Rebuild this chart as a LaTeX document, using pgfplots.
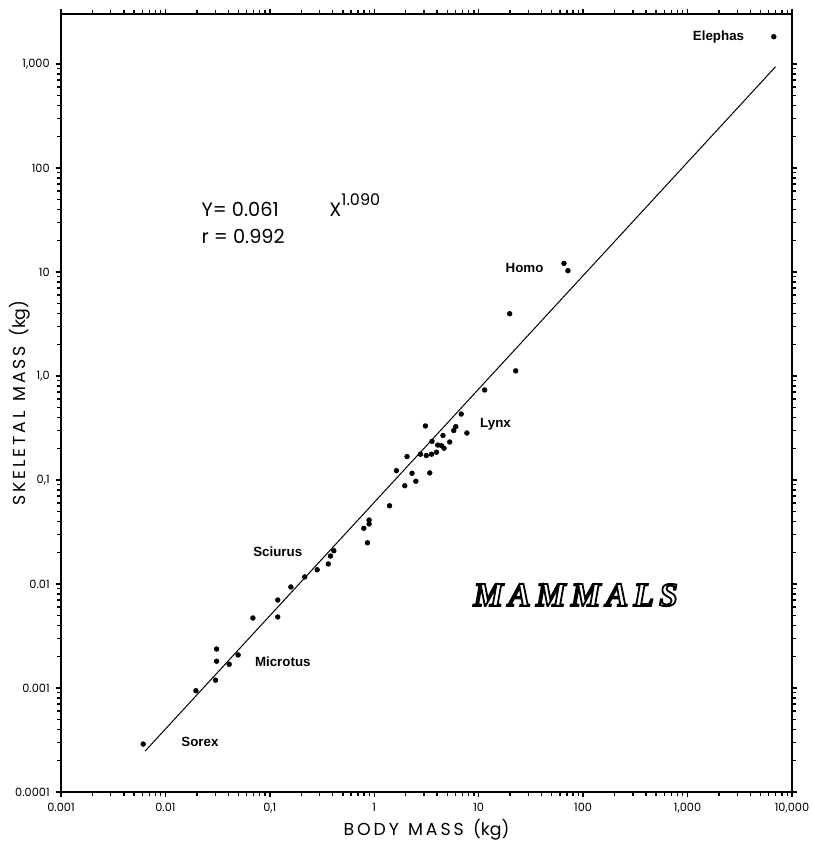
\documentclass[border=0pt]{standalone}
\usepackage{pgfplots}
\pgfplotsset{compat=1.18}
\usepackage{fontspec}
\setmainfont{Poppins}
\newfontfamily\labfont{Liberation Sans}
\newfontfamily\mamfont[LetterSpace=16]{Liberation Serif}
% hollow (stroked) lettering
\newcommand\hollow[1]{\special{pdf:literal direct 1 Tr 1.35 w}#1\special{pdf:literal direct 0 Tr}}

% skeletal mass vs body mass, mammals (kg)
\pgfplotstableread{
x        y
0.00613  0.000289
0.0196   0.000942
0.0302   0.00119
0.0309   0.00181
0.0309   0.00237
0.0408   0.00169
0.0497   0.00208
0.0688   0.00471
0.119    0.00482
0.119    0.00702
0.159    0.00936
0.216    0.0117
0.284    0.0137
0.363    0.0156
0.381    0.0186
0.410    0.0209
0.794    0.0343
0.861    0.0249
0.892    0.0412
0.892    0.0378
1.40     0.0565
1.96     0.0881
1.63     0.123
2.06     0.168
2.30     0.116
2.50     0.0972
3.40     0.117
2.77     0.177
3.15     0.172
3.53     0.177
3.94     0.185
3.09     0.331
3.57     0.235
4.05     0.217
4.40     0.214
4.66     0.202
4.55     0.268
5.28     0.232
5.77     0.299
6.03     0.326
6.80     0.431
7.71     0.283
11.4     0.734
19.8     3.97
22.6     1.12
65.5     12.1
71.5     10.3
6700     1830
}\mammals

\begin{document}
\begin{tikzpicture}
\begin{axis}[
  scale only axis,
  width=548.25pt, height=583.5pt,
  xmode=log, ymode=log,
  xmin=0.001, xmax=10000,
  ymin=0.0001, ymax=3025,
  axis line style={line width=1.3pt},
  tick style={line width=1pt, black},
  tick align=outside,
  major tick length=4pt,
  minor tick num=0,
  xtick={0.001,0.01,0.1,1,10,100,1000,10000},
  xticklabels={0.001,0.01,{0,1},1,10,100,{1,000},{10,000}},
  ytick={0.0001,0.001,0.01,0.1,1,10,100,1000},
  yticklabels={0.0001,0.001,0.01,{0,1},{1,0},10,100,{1,000}},
  xtick pos=both, ytick pos=both,
  xticklabel pos=left, yticklabel pos=left,
  ticklabel style={font=\fontsize{8.5}{9}\selectfont},
  xticklabel style={yshift=-1pt},
  yticklabel style={xshift=-1pt},
  /pgf/number format/assume math mode=true,
  clip=false,
]
% regression line Y = 0.061 X^1.090
\addplot[black, line width=0.75pt, no marks] coordinates {(0.0064,0.0002477) (6950,940)};
\addplot[only marks, mark=*, mark size=1.8pt, black] table[x=x, y=y] {\mammals};

\node[anchor=base west, font=\fontsize{14.5}{15}\selectfont] at (axis cs:0.02,33.8)
  {Y= 0.061\hspace{38pt}X\raisebox{0.62em}{\fontsize{12}{13}\selectfont 1.090}};
\node[anchor=base west, font=\fontsize{14.5}{15}\selectfont] at (axis cs:0.02,18.6) {r = 0.992};

\begin{scope}[every node/.style={font=\labfont\bfseries\fontsize{10}{11}\selectfont}]
\node at (axis cs:1980,1818) {Elephas};
\node at (axis cs:27.5,10.9) {Homo};
\node at (axis cs:14.5,0.345) {Lynx};
\node at (axis cs:0.119,0.0203) {Sciurus};
\node at (axis cs:0.133,0.00178) {Microtus};
\node at (axis cs:0.0214,0.000303) {Sorex};
\end{scope}

\node at (axis cs:84.8,0.00784)
  {\mamfont\bfseries\itshape\fontsize{25}{27}\selectfont\hollow{MAMMALS}};

\node[rotate=90, font=\fontsize{13}{14}\selectfont] at ([xshift=-30.75pt]rel axis cs:0,0.5)
  {S\,K\,E\,L\,E\,T\,A\,L\ \ M\,A\,S\,S\ \ (kg)};
\node[font=\fontsize{13}{14}\selectfont] at ([yshift=-28.5pt]rel axis cs:0.5,0)
  {B\,O\,D\,Y\ \ M\,A\,S\,S\ \ (kg)};
\end{axis}
\pgfresetboundingbox
\path[use as bounding box] ([shift={(-45.75pt,-39pt)}]current axis.south west)
  rectangle ([shift={(15.75pt,10.5pt)}]current axis.north east);
\end{tikzpicture}
\end{document}
